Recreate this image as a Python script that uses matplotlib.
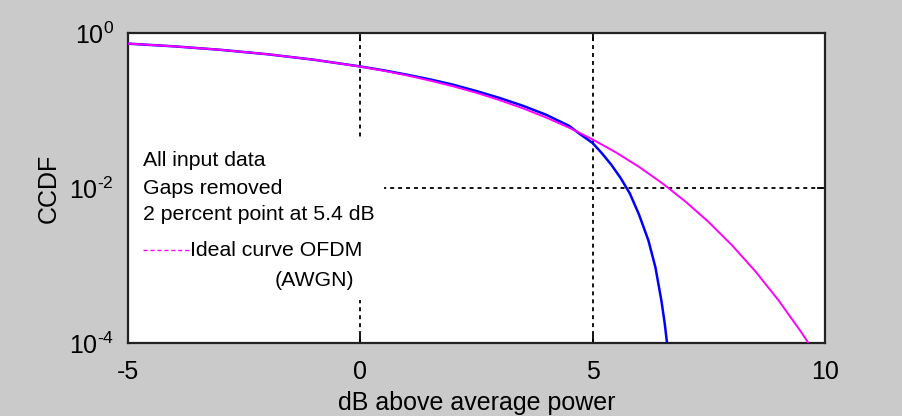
import matplotlib
matplotlib.use("Agg")
import matplotlib.pyplot as plt
from matplotlib.patches import Rectangle

plt.rcParams['font.family'] = ['Liberation Sans', 'DejaVu Sans']
plt.rcParams['mathtext.fontset'] = 'custom'
plt.rcParams['mathtext.rm'] = 'Liberation Sans'
plt.rcParams['axes.unicode_minus'] = False

# Measured CCDF (all input data, gaps removed)
meas_db = [-5.0, -4.0, -3.0, -2.0, -1.0, 0.0, 0.5, 1.0, 1.5, 2.0, 2.5, 3.0, 3.5,
           4.0, 4.5, 4.7, 5.0, 5.2, 5.4, 5.6, 5.8, 6.0, 6.2, 6.35, 6.48, 6.55, 6.6]
meas_ccdf = [0.729, 0.672, 0.606, 0.532, 0.452, 0.37, 0.33, 0.29, 0.252, 0.215,
             0.178, 0.145, 0.115, 0.088, 0.063, 0.051, 0.038, 0.028, 0.02, 0.0135,
             0.0085, 0.0045, 0.0021, 0.00095, 0.00035, 0.00018, 0.0001]

# Ideal OFDM (AWGN) reference curve
ideal_db = [-5.0, -4.0, -3.0, -2.0, -1.0, 0.0, 0.5, 1.0, 1.5, 2.0, 2.5, 3.0, 3.5,
            4.0, 4.5, 5.0, 5.5, 6.0, 6.5, 7.0, 7.5, 8.0, 8.5, 9.0, 9.5, 9.7]
ideal_ccdf = [0.729, 0.672, 0.606, 0.532, 0.452, 0.368, 0.326, 0.284, 0.243, 0.205,
              0.169, 0.136, 0.1066, 0.0811, 0.0597, 0.0423, 0.0288, 0.0187, 0.01148,
              0.00666, 0.00362, 0.00182, 0.000843, 0.000355, 0.000135, 0.0000884]

x_ticks = [-5, 0, 5, 10]
y_ticks = [1e-4, 1e-2, 1e0]
y_tick_labels = [r'$\mathregular{10^{\text{-}4}}$', r'$\mathregular{10^{\text{-}2}}$',
                 r'$\mathregular{10^{0}}$']

annotation_lines = ["All input data", "Gaps removed", "2 percent point at 5.4 dB"]

fig = plt.figure(figsize=(9.02, 4.16), dpi=100, facecolor='#cacaca')
ax = fig.add_axes([128/902, 1-343/416, 697/902, 310/416])
ax.set_facecolor('white')

ax.plot(meas_db, meas_ccdf, color='#0000ff', lw=1.8, zorder=3)
ax.plot(ideal_db, ideal_ccdf, color='#ff00ff', lw=1.4, zorder=4)

ax.set_yscale('log')
ax.set_xlim(-5, 10)
ax.set_ylim(1e-4, 1e0)
ax.set_xticks(x_ticks)
ax.set_xticklabels([str(t) for t in x_ticks])
ax.set_yticks(y_ticks)
ax.set_yticklabels(y_tick_labels)
ax.yaxis.set_minor_locator(matplotlib.ticker.NullLocator())

ax.set_axisbelow(True)
ax.grid(True, color='black', lw=1.3, linestyle=(0, (2.2, 2.2)))
ax.tick_params(direction='in', top=True, right=True, length=6, width=1.3,
               labelsize=18, pad=10, colors='black')
ax.tick_params(axis='x', pad=12)
for s in ax.spines.values():
    s.set_linewidth(1.6)
    s.set_color('#222222')

ax.set_xlabel('dB above average power', fontsize=18, labelpad=5)
ax.set_ylabel('CCDF', fontsize=18, labelpad=6)

# white annotation panel over the grid
ax.add_patch(Rectangle((0, 0.139), 0.367, 0.519, transform=ax.transAxes,
                       facecolor='white', edgecolor='none', zorder=1))

ys = [0.590, 0.500, 0.413]
for t, y in zip(annotation_lines, ys):
    ax.text(0.0215, y, t, transform=ax.transAxes, fontsize=15.3,
            va='center', ha='left', zorder=5)

ax.plot([0.0215, 0.089], [0.300, 0.300], transform=ax.transAxes,
        color='#ff00ff', lw=1.0, linestyle=(0, (3, 2)), zorder=5)
ax.text(0.089, 0.300, 'Ideal curve OFDM', transform=ax.transAxes, fontsize=15.3,
        va='center', ha='left', zorder=5)
ax.text(0.211, 0.200, '(AWGN)', transform=ax.transAxes, fontsize=15.3,
        va='center', ha='left', zorder=5)

fig.savefig('out.png', dpi=100, facecolor=fig.get_facecolor())
